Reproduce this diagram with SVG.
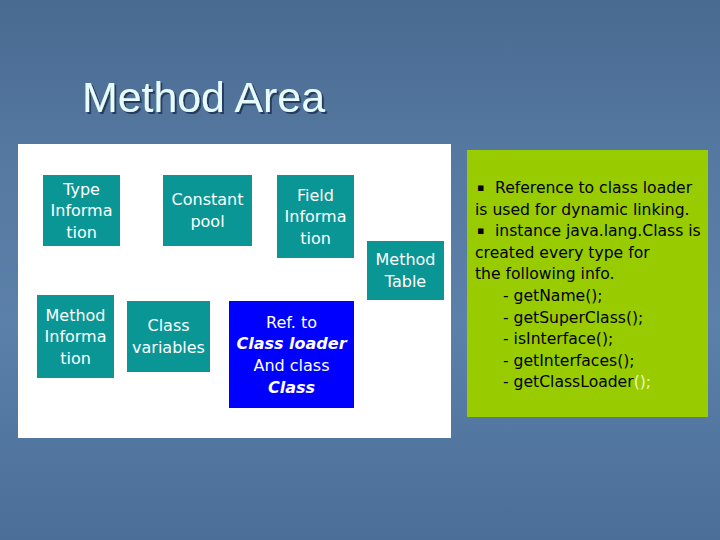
<svg xmlns="http://www.w3.org/2000/svg" width="720" height="540" viewBox="0 0 720 540">
<defs>
<linearGradient id="bg" x1="0" y1="0" x2="0" y2="1">
<stop offset="0" stop-color="#496a91"/>
<stop offset="0.3" stop-color="#5679a1"/>
<stop offset="0.6" stop-color="#5b80a9"/>
<stop offset="1" stop-color="#4a6e97"/>
</linearGradient>
<filter id="shadow" x="-10%" y="-30%" width="130%" height="160%">
<feDropShadow dx="2" dy="2" stdDeviation="0.6" flood-color="#1e3350" flood-opacity="0.85"/>
</filter>
<style>
.box{fill:#0b9696}
.bt{font-family:"DejaVu Sans",sans-serif;font-size:16px;fill:#ffffff;text-anchor:middle}
.bi{font-weight:bold;font-style:italic}
.gt{font-family:"DejaVu Sans",sans-serif;font-size:15.6px;fill:#000000}
.bul{font-family:"DejaVu Sans",sans-serif;font-size:11px;fill:#000000}
</style>
</defs>
<rect x="0" y="0" width="720" height="540" fill="url(#bg)"/>
<text x="82" y="112" font-family="'Liberation Sans',sans-serif" font-size="42" fill="#e6fcff" filter="url(#shadow)" textLength="243" lengthAdjust="spacingAndGlyphs">Method Area</text>
<rect x="18" y="144" width="433" height="294" fill="#ffffff"/>
<g id="type-info"><rect class="box" x="43" y="175" width="77" height="71"/>
<text class="bt" x="81.5" y="195">Type</text><text class="bt" x="81.5" y="216">Informa</text><text class="bt" x="81.5" y="238">tion</text></g>
<g id="constant-pool"><rect class="box" x="163" y="175" width="89" height="71"/>
<text class="bt" x="207.5" y="205">Constant</text><text class="bt" x="207.5" y="227">pool</text></g>
<g id="field-info"><rect class="box" x="277" y="175" width="77" height="83"/>
<text class="bt" x="315.5" y="201">Field</text><text class="bt" x="315.5" y="222">Informa</text><text class="bt" x="315.5" y="244">tion</text></g>
<g id="method-table"><rect class="box" x="367" y="241" width="77" height="59"/>
<text class="bt" x="405.5" y="265">Method</text><text class="bt" x="405.5" y="287">Table</text></g>
<g id="method-info"><rect class="box" x="37" y="295" width="77" height="83"/>
<text class="bt" x="75.5" y="321">Method</text><text class="bt" x="75.5" y="342">Informa</text><text class="bt" x="75.5" y="364">tion</text></g>
<g id="class-vars"><rect class="box" x="127" y="301" width="83" height="71"/>
<text class="bt" x="168.5" y="331">Class</text><text class="bt" x="168.5" y="353">variables</text></g>
<g id="ref-classloader"><rect x="229" y="301" width="125" height="107" fill="#0000ff"/>
<text class="bt" x="291.5" y="328">Ref. to</text><text class="bt bi" x="291.5" y="349">Class loader</text><text class="bt" x="291.5" y="371">And class</text><text class="bt bi" x="291.5" y="393">Class</text></g>
<g id="note"><rect x="467" y="150" width="241" height="267" fill="#99cc00"/>
<text class="bul" x="477" y="191">▪</text><text class="gt" x="495" y="193">Reference to class loader</text>
<text class="gt" x="475" y="214.6">is used for dynamic linking.</text>
<text class="bul" x="477" y="234.2">▪</text><text class="gt" x="495" y="236.2">instance java.lang.Class is</text>
<text class="gt" x="475" y="257.8">created every type for</text>
<text class="gt" x="475" y="279.4">the following info.</text>
<text class="gt" x="503" y="301">- getName();</text>
<text class="gt" x="503" y="322.6">- getSuperClass();</text>
<text class="gt" x="503" y="344.2">- isInterface();</text>
<text class="gt" x="503" y="365.8">- getInterfaces();</text>
<text class="gt" x="503" y="387.4">- getClassLoader<tspan fill="#f4f4c8">();</tspan></text></g>
</svg>
